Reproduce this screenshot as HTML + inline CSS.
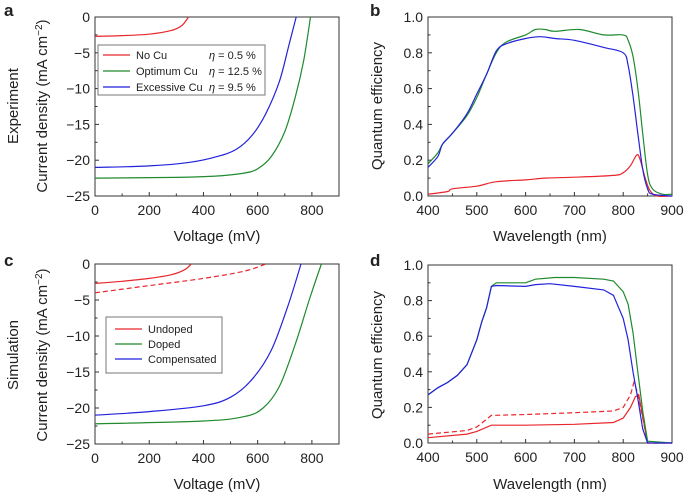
<!DOCTYPE html>
<html><head><meta charset="utf-8"><style>
body{margin:0;background:#fff}
svg{display:block;font-family:"Liberation Sans",sans-serif}
</style></head><body>
<svg id="fig" width="685" height="495" viewBox="0 0 685 495"></svg>
<script>
const jvX=[0,100,200,280,320,345];
const jvA_red=[-2.7,-2.6,-2.4,-1.9,-1.2,0];
const jvA_gX=[0,300,450,550,600,650,700,740,770,795];
const jvA_g=[-22.5,-22.4,-22.2,-21.8,-21.2,-19.5,-16,-11,-6,0];
const jvA_bX=[0,200,350,450,520,580,630,680,715,742];
const jvA_b=[-21,-20.8,-20.3,-19.5,-18.5,-16.5,-13.5,-9,-4,0];
const jvC_rX=[0,100,200,280,330,355];
const jvC_r=[-2.7,-2.4,-2.0,-1.5,-0.8,0];
const jvC_rdX=[0,200,400,550,630];
const jvC_rd=[-4,-3,-2,-1,0];
const jvC_bX=[0,200,400,500,580,650,710,760];
const jvC_b=[-21,-20.5,-19.7,-18.5,-16,-12,-6,0];
const jvC_gX=[0,400,550,620,680,740,790,835];
const jvC_g=[-22.2,-21.8,-21.2,-20,-17,-11,-5,0];
const qeB_gX=[400,420,430,450,480,500,520,540,560,600,620,640,660,710,760,800,810,820,830,840,850,860,880,900];
const qeB_g=[.18,.24,.29,.35,.45,.55,.68,.80,.86,.90,.93,.93,.92,.93,.90,.90,.87,.78,.60,.35,.12,.04,.01,.01];
const qeB_bX=[400,420,430,450,480,500,520,540,560,600,630,660,700,760,800,810,820,830,840,850,860,900];
const qeB_b=[.16,.22,.29,.35,.46,.57,.68,.81,.85,.88,.89,.88,.87,.83,.80,.73,.56,.35,.15,.04,.01,0];
const qeB_rX=[400,440,450,500,540,600,640,700,780,800,815,828,835,845,855,870,900];
const qeB_r=[.01,.025,.04,.055,.08,.09,.10,.105,.115,.13,.17,.23,.20,.10,.03,0,0];
const qeD_gX=[400,420,440,460,480,500,510,520,530,540,600,620,660,700,760,780,800,810,820,830,840,850,900];
const qeD_g=[.27,.31,.34,.38,.44,.58,.68,.76,.88,.90,.90,.92,.93,.93,.92,.91,.85,.78,.62,.40,.18,.01,0];
const qeD_bX=[400,420,440,460,480,500,510,520,530,540,600,620,650,700,760,780,800,810,820,830,840,850,900];
const qeD_b=[.27,.31,.34,.38,.44,.58,.68,.76,.88,.885,.88,.89,.895,.88,.86,.83,.70,.58,.40,.25,.08,0,0];
const qeD_rX=[400,480,500,530,600,700,780,800,815,825,832,840,850,900];
const qeD_r=[.03,.05,.065,.10,.10,.105,.115,.14,.20,.26,.27,.15,0,0];
const qeD_rdX=[400,480,500,530,600,700,780,800,815,822,830,840,850,900];
const qeD_rd=[.05,.07,.09,.155,.16,.17,.18,.20,.27,.34,.28,.14,0,0];
const jvTicksX=[0,200,400,600,800];
const jvTicksY=[0,-5,-10,-15,-20,-25];
const qeTicksX=[400,500,600,700,800,900];
const qeTicksY=[0,0.2,0.4,0.6,0.8,1.0];

const NS="http://www.w3.org/2000/svg";
const svg=document.getElementById('fig');
const RED="#e8262b",GREEN="#1f8a2e",BLUE="#2222dd";
function mk(t,a,p){const e=document.createElementNS(NS,t);for(const k in a)e.setAttribute(k,a[k]);(p||svg).appendChild(e);return e;}
function txt(s,x,y,a,p){const e=mk('text',Object.assign({x:x,y:y,'font-size':14,fill:'#222'},a),p);e.textContent=s;return e;}
function panel(id,L,R,T,B,x0,x1,y0,y1,xt,yt,yfmt,minorX,minorY){
  const g=mk('g',{});
  
  
  const sx=v=>L+(v-x0)/(x1-x0)*(R-L), sy=v=>B-(v-y0)/(y1-y0)*(B-T);
  const fr=mk('rect',{x:L,y:T,width:R-L,height:B-T,fill:'none',stroke:'#333','stroke-width':1},g);
  
  
  xt.forEach(v=>{mk('line',{x1:sx(v),x2:sx(v),y1:B,y2:B-4,stroke:'#333'},g);
    const t=txt(String(v),sx(v),B+19,{'text-anchor':'middle'},g);
    
    });
  minorX.forEach(v=>mk('line',{x1:sx(v),x2:sx(v),y1:B,y2:B-2.5,stroke:'#333'},g));
  yt.forEach(v=>{mk('line',{x1:L,x2:L+4,y1:sy(v),y2:sy(v),stroke:'#333'},g);
    const t=txt(yfmt(v),L-5,sy(v)+5,{'text-anchor':'end'},g);
    
    });
  minorY.forEach(v=>mk('line',{x1:L,x2:L+2.5,y1:sy(v),y2:sy(v),stroke:'#333'},g));
  return {g,sx,sy};
}
function line(P,xs,ys,col,name,dash,smooth){
  const pts=xs.map((x,i)=>[P.sx(x),P.sy(ys[i])]);
  let d='M'+pts[0][0].toFixed(1)+','+pts[0][1].toFixed(1);
  for(let i=0;i<pts.length-1;i++){
    const p0=pts[Math.max(0,i-1)],p1=pts[i],p2=pts[i+1],p3=pts[Math.min(pts.length-1,i+2)];
    if(smooth){
      const c1=[p1[0]+(p2[0]-p0[0])/6,p1[1]+(p2[1]-p0[1])/6],c2=[p2[0]-(p3[0]-p1[0])/6,p2[1]-(p3[1]-p1[1])/6];
      d+='C'+c1.map(v=>v.toFixed(1)).join(',')+' '+c2.map(v=>v.toFixed(1)).join(',')+' '+p2[0].toFixed(1)+','+p2[1].toFixed(1);
    } else d+='L'+p2[0].toFixed(1)+','+p2[1].toFixed(1);
  }
  const e=mk('path',{d:d,fill:'none',stroke:col,'stroke-width':1.2},P.g);
  if(dash)e.setAttribute('stroke-dasharray','5,3');
  
  
}
const jvfmt=v=>v===0?'0':'\u2212'+Math.abs(v);
const qefmt=v=>v.toFixed(1);
const jvMinX=[100,300,500,700,900],jvMinY=[-2.5,-7.5,-12.5,-17.5,-22.5];
const qeMinX=[450,550,650,750,850],qeMinY=[0.1,0.3,0.5,0.7,0.9];

const A=panel('a',95,339,17,196,0,900,-25,0,jvTicksX,jvTicksY,jvfmt,jvMinX,jvMinY);
line(A,jvX,jvA_red,RED,'no-cu-curve',false,true);line(A,jvA_gX,jvA_g,GREEN,'optimum-cu-curve',false,true);line(A,jvA_bX,jvA_b,BLUE,'excessive-cu-curve',false,true);
const B=panel('b',428,672,17,196,400,900,0,1,qeTicksX,qeTicksY,qefmt,qeMinX,qeMinY);
line(B,qeB_rX,qeB_r,RED,'no-cu-qe',false,true);line(B,qeB_gX,qeB_g,GREEN,'optimum-cu-qe',false,true);line(B,qeB_bX,qeB_b,BLUE,'excessive-cu-qe',false,true);
const C=panel('c',95,339,264,444,0,900,-25,0,jvTicksX,jvTicksY,jvfmt,jvMinX,jvMinY);
line(C,jvC_rX,jvC_r,RED,'undoped-curve',false,true);line(C,jvC_rdX,jvC_rd,RED,'undoped-dashed-curve',true,true);
line(C,jvC_gX,jvC_g,GREEN,'doped-curve',false,true);line(C,jvC_bX,jvC_b,BLUE,'compensated-curve',false,true);
const D=panel('d',428,672,265,443,400,900,0,1,qeTicksX,qeTicksY,qefmt,qeMinX,qeMinY);
line(D,qeD_rX,qeD_r,RED,'undoped-qe');line(D,qeD_rdX,qeD_rd,RED,'undoped-dashed-qe',true);
line(D,qeD_gX,qeD_g,GREEN,'doped-qe');line(D,qeD_bX,qeD_b,BLUE,'compensated-qe');
</script>
<svg width="685" height="495" style="position:absolute;left:0;top:0">
<g font-family="Liberation Sans, sans-serif" fill="#222">
<text x="4" y="16" font-size="17" font-weight="bold">a</text>
<text x="370" y="16" font-size="17" font-weight="bold">b</text>
<text x="4" y="266" font-size="17" font-weight="bold">c</text>
<text x="370" y="266" font-size="17" font-weight="bold">d</text>
<text x="217" y="241" font-size="15" text-anchor="middle">Voltage (mV)</text>
<text x="550" y="241" font-size="15" text-anchor="middle">Wavelength (nm)</text>
<text x="217" y="489" font-size="15" text-anchor="middle">Voltage (mV)</text>
<text x="550" y="489" font-size="15" text-anchor="middle">Wavelength (nm)</text>
<text transform="translate(47,106) rotate(-90)" font-size="15" text-anchor="middle">Current density (mA cm<tspan dy="-5" font-size="10">−2</tspan><tspan dy="5">)</tspan></text>
<text transform="translate(47,355) rotate(-90)" font-size="15" text-anchor="middle">Current density (mA cm<tspan dy="-5" font-size="10">−2</tspan><tspan dy="5">)</tspan></text>
<text transform="translate(18,106) rotate(-90)" font-size="15" text-anchor="middle">Experiment</text>
<text transform="translate(18,355) rotate(-90)" font-size="15" text-anchor="middle">Simulation</text>
<text transform="translate(382,106) rotate(-90)" font-size="15" text-anchor="middle">Quantum efficiency</text>
<text transform="translate(382,355) rotate(-90)" font-size="15" text-anchor="middle">Quantum efficiency</text>
</g>
<g font-family="Liberation Sans, sans-serif" font-size="11" fill="#222">
<rect x="98" y="45" width="167" height="50" fill="#fff" stroke="#777"/>
<line x1="103" x2="130" y1="55" y2="55" stroke="#e8262b" stroke-width="1.2"/><text x="136" y="59">No Cu</text><text x="209" y="59"><tspan font-style="italic">η</tspan> = 0.5 %</text>
<line x1="103" x2="130" y1="71" y2="71" stroke="#1f8a2e" stroke-width="1.2"/><text x="136" y="75">Optimum Cu</text><text x="209" y="75"><tspan font-style="italic">η</tspan> = 12.5 %</text>
<line x1="103" x2="130" y1="87" y2="87" stroke="#2222dd" stroke-width="1.2"/><text x="136" y="91">Excessive Cu</text><text x="209" y="91"><tspan font-style="italic">η</tspan> = 9.5 %</text>
</g>
<g font-family="Liberation Sans, sans-serif" font-size="11" fill="#222">
<rect x="106" y="317" width="116" height="56" fill="#fff" stroke="#777"/>
<line x1="115" x2="142" y1="329" y2="329" stroke="#e8262b" stroke-width="1.2"/><text x="148" y="333">Undoped</text>
<line x1="115" x2="142" y1="344" y2="344" stroke="#1f8a2e" stroke-width="1.2"/><text x="148" y="348">Doped</text>
<line x1="115" x2="142" y1="359" y2="359" stroke="#2222dd" stroke-width="1.2"/><text x="148" y="363">Compensated</text>
</g>
</svg>
</body></html>
